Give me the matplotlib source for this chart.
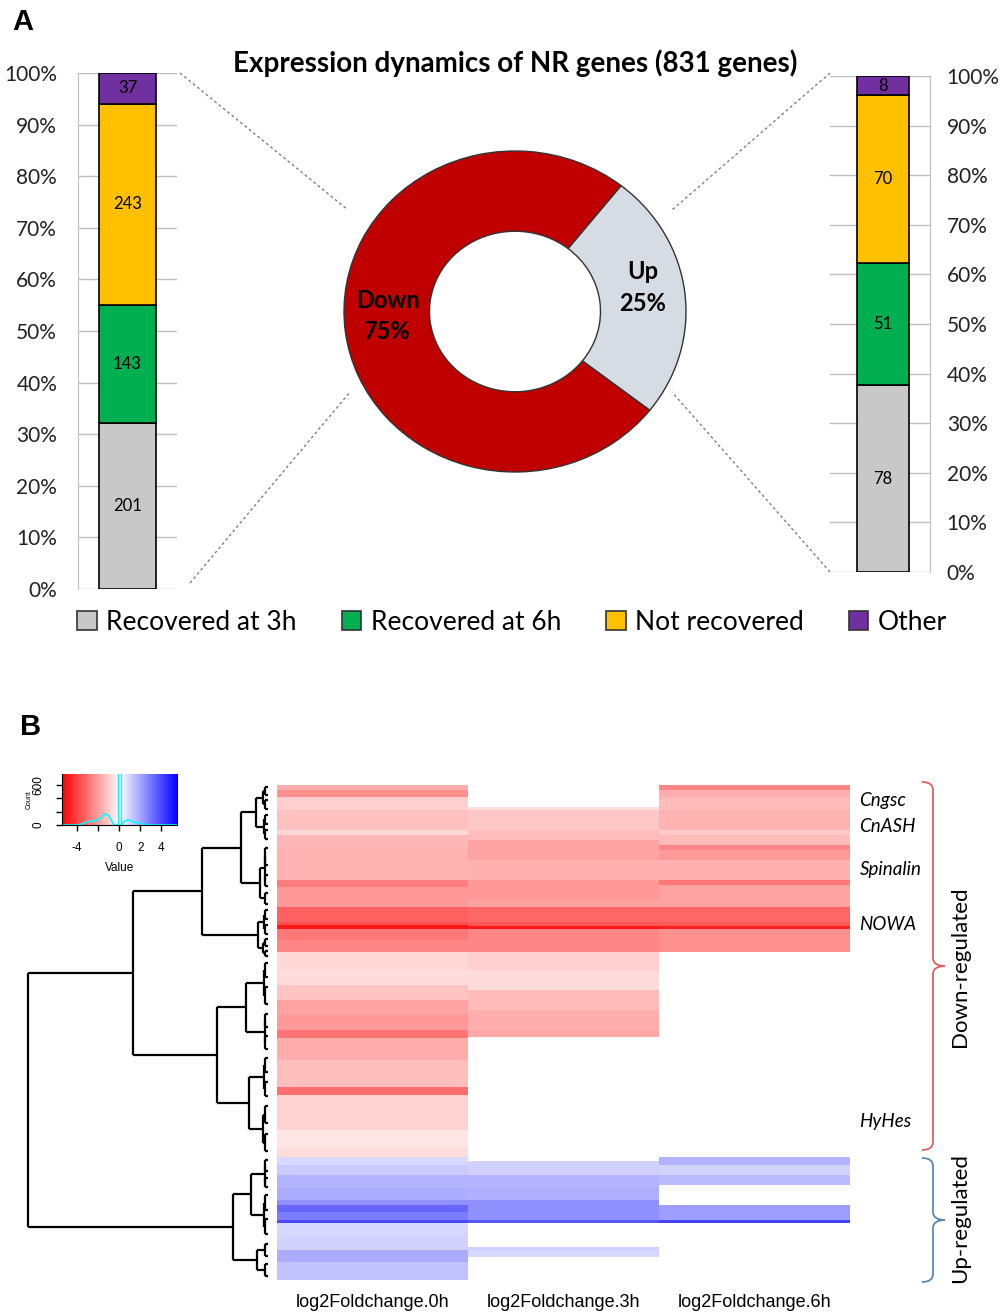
import numpy as np
import matplotlib
matplotlib.use("Agg")
import matplotlib.pyplot as plt
from matplotlib.patches import Patch, PathPatch
from matplotlib.path import Path
from matplotlib.colors import LinearSegmentedColormap

# ---------------- data ----------------
categories = ["Recovered at 3h", "Recovered at 6h", "Not recovered", "Other"]
cat_colors = ["#C8C8C8", "#00B050", "#FFC000", "#7030A0"]
down_counts = [201, 143, 243, 37]
up_counts = [78, 51, 70, 8]
donut_labels = ["Up", "Down"]
donut_counts = [sum(up_counts), sum(down_counts)]
donut_colors = ["#D6DCE4", "#C00000"]
pct_ticks = [0, 10, 20, 30, 40, 50, 60, 70, 80, 90, 100]

# heatmap row groups (top to bottom) and the columns present for each category
row_groups = ["Other", "Not recovered", "Recovered at 6h", "Recovered at 3h",
              "Other", "Not recovered", "Recovered at 6h", "Not recovered",
              "Recovered at 3h", "Recovered at 6h", "Recovered at 3h"]
row_group_sizes = [37, 243, 143, 201, 8, 40, 33, 30, 40, 18, 38]
present = {"Recovered at 3h": (1, 0, 0), "Recovered at 6h": (1, 1, 0),
           "Not recovered": (1, 1, 1), "Other": (1, 0, 1)}
col_labels = ["log2Foldchange.0h", "log2Foldchange.3h", "log2Foldchange.6h"]

# run-length encoded log2 fold changes (row start, value)
hm0_starts = [0, 8, 20, 42, 75, 84, 104, 159, 171, 205, 230, 235, 242, 260, 280, 310, 336, 361, 386, 411,
              425, 462, 507, 520, 579, 609, 624, 638, 655, 676, 697, 705, 717, 731, 736, 755, 781, 801]
hm0_vals = [-1.8, -2.4, -1.05, -1.35, -0.85, -1.55, -1.65, -2.8, -2.2, -3.4, -3.8, -5.0, -2.9, -2.6, -0.85,
            -0.75, -1.25, -2.0, -2.2, -3.0, -1.8, -1.4, -3.1, -0.95, -0.55, -0.75, 0.85, 1.15, 1.6, 1.8,
            2.4, 3.3, 2.8, 3.9, 0.85, 0.95, 1.8, 1.3]
hm3_starts = [0, 42, 75, 92, 126, 159, 193, 205, 230, 236, 242, 280, 310, 344, 378, 411, 425, 624, 638, 655,
              676, 697, 731, 736, 781, 801]
hm3_vals = [-0.7, -1.2, -1.45, -2.0, -1.7, -2.2, -2.0, -3.3, -3.6, -5.0, -2.6, -1.05, -0.75, -1.5, -1.75,
            -1.9, -1.0, 0.95, 1.0, 1.6, 1.7, 2.4, 3.6, 1.0, 0.85, 1.0]
hm6_starts = [0, 8, 20, 42, 75, 84, 101, 109, 126, 159, 168, 205, 230, 236, 242, 280, 624, 638, 655, 676,
              705, 731, 736]
hm6_vals = [-2.6, -1.8, -1.5, -1.6, -1.15, -1.5, -2.6, -2.2, -1.7, -2.9, -2.0, -3.3, -3.6, -4.8, -2.4,
            -1.0, 1.6, 0.95, 1.5, 1.5, 2.1, 4.0, 1.0]

# row dendrogram: (merge height, left, right); leaves are row counts
dendro = (240,
          (135,
           (66,
            (27, (12, (5, 20, 25), (4, 25, 25)), (8, (3, 50, 30), 30)),
            (10, (4, 25, 25), (5, 20, 15))),
           (51,
            (22, (4, 40, 48), (3, 36, 36)),
            (19, (4, 40, 40), (5, 47, 47)))),
          (35,
           (17, (3, 30, 27), (4, 40, 42)),
           (11, 34, 34)))

# colour-key histogram (value, count)
key_hist_x = [-5.5, -4.0, -3.5, -3.0, -2.5, -2.1, -1.8, -1.5, -1.3, -1.1, -0.85, -0.55, -0.4, 0.3, 0.4,
              0.6, 0.85, 1.1, 1.3, 1.8, 2.3, 2.6, 5.5]
key_hist_c = [0, 0, 20, 50, 60, 75, 100, 150, 165, 150, 100, 15, 0, 0, 50, 65, 75, 65, 50, 30, 15, 0, 0]

gene_labels = ["Cngsc", "CnASH", "Spinalin", "NOWA", "HyHes"]
gene_rows = [25, 69, 141, 233, 565]

# ---------------- figure ----------------
W, H = 1002, 1313
fig = plt.figure(figsize=(W / 100, H / 100), dpi=100)
SANS = ["Lato", "DejaVu Sans"]
ARIAL = ["Liberation Sans", "DejaVu Sans"]


def px_axes(x0, y0, x1, y1, **kw):
    return fig.add_axes([x0 / W, 1 - y1 / H, (x1 - x0) / W, (y1 - y0) / H], **kw)


# overlay for decorations
ov = px_axes(0, 0, W, H)
ov.set_xlim(0, W)
ov.set_ylim(H, 0)
ov.axis("off")


def stacked_bar(ax, counts, side, bar_x, bar_w, pad):
    total = sum(counts)
    fr = np.array(counts) / total
    bottoms = np.concatenate([[0], np.cumsum(fr)[:-1]])
    for f, b, c, n in zip(fr, bottoms, cat_colors, counts):
        ax.bar(bar_x, f, bottom=b, width=bar_w, color=c, edgecolor="black", linewidth=1.2, zorder=3)
        ax.text(bar_x, b + f / 2, str(n), ha="center", va="center", fontsize=12, family=SANS, zorder=4)
    ax.set_ylim(0, 1)
    ax.set_xlim(-0.5, 0.5)
    ax.set_yticks(np.array(pct_ticks) / 100)
    ax.set_yticklabels([f"{p}%" for p in pct_ticks], family=SANS, fontsize=15, color="#222222")
    ax.yaxis.grid(True, color="#BFBFBF", linewidth=1, zorder=0)
    ax.set_xticks([])
    for s in ax.spines.values():
        s.set_visible(False)
    ax.spines[side].set_visible(True)
    ax.spines[side].set_color("#BFBFBF")
    ax.tick_params(axis="y", length=0, pad=pad)
    if side == "right":
        ax.yaxis.tick_right()


axL = px_axes(78, 73, 177, 589)
stacked_bar(axL, down_counts, "left", 0.0, 0.58, 15)
axR = px_axes(830, 76, 930, 572)
stacked_bar(axR, up_counts, "right", 0.03, 0.52, 12)

# donut
axD = px_axes(344, 151, 686, 472)
wedges, _ = axD.pie(donut_counts, colors=donut_colors, startangle=-38, counterclock=True,
                    radius=1, wedgeprops=dict(width=0.5, edgecolor="#333333", linewidth=1.0))
axD.set_xlim(-1.0, 1.0)
axD.set_ylim(-1.0, 1.0)
axD.set_aspect("auto")
tot = sum(donut_counts)
for w, lab, n in zip(wedges, donut_labels, donut_counts):
    ang = np.deg2rad((w.theta1 + w.theta2) / 2)
    axD.text(0.75 * np.cos(ang), 0.75 * np.sin(ang) + 0.06, f"{lab}\n{round(100 * n / tot)}%",
             ha="center", va="center", fontsize=17, fontweight="bold", family=SANS, linespacing=1.45)

ov.text(515, 63, "Expression dynamics of NR genes (831 genes)", ha="center", va="center",
        fontsize=20, fontweight="bold", family=SANS)
ov.text(12, 22, "A", ha="left", va="center", fontsize=21, fontweight="bold", family=ARIAL)
ov.text(20, 727, "B", ha="left", va="center", fontsize=21, fontweight="bold", family=ARIAL)

dash = dict(color="#7F7F7F", linewidth=1.0, linestyle=(0, (2, 2)))
ov.plot([180, 348], [73, 210], **dash)
ov.plot([190, 350], [583, 392], **dash)
ov.plot([830, 672], [73, 210], **dash)
ov.plot([830, 672], [572, 392], **dash)

handles = [Patch(facecolor=c, edgecolor="#333333", linewidth=1.2) for c in cat_colors]
fig.legend(handles, categories, loc="center", bbox_to_anchor=(512 / W, 1 - 622 / H), ncol=4,
           frameon=False, prop=dict(family=SANS, size=19), handlelength=0.75, handleheight=0.75,
           handletextpad=0.35, columnspacing=1.7)

# ---------------- heatmap ----------------
n_rows = sum(row_group_sizes)


def expand(starts, vals):
    counts = np.diff(list(starts) + [n_rows])
    return np.repeat(vals, counts).astype(float)


mat = np.column_stack([expand(hm0_starts, hm0_vals), expand(hm3_starts, hm3_vals),
                       expand(hm6_starts, hm6_vals)])
mask = np.vstack([np.tile(present[g], (n, 1)) for g, n in zip(row_groups, row_group_sizes)])
mat[mask == 0] = np.nan

cmap = LinearSegmentedColormap.from_list("rwb", ["#FF0000", "#FFFFFF", "#0000FF"])
cmap.set_bad("white")
VMAX = 5.5
axH = px_axes(277, 785, 850, 1280)
axH.imshow(mat, aspect="auto", cmap=cmap, vmin=-VMAX, vmax=VMAX, interpolation="nearest")
axH.set_xticks(range(3))
axH.set_xticklabels(col_labels, family=ARIAL, fontsize=13)
axH.tick_params(axis="x", length=0, pad=10)
axH.set_yticks([])
for s in axH.spines.values():
    s.set_visible(False)

# gene labels
for g, r in zip(gene_labels, gene_rows):
    axH.text(2.55, r, g, ha="left", va="center", fontsize=13.5, style="italic", family=SANS,
             transform=axH.transData, clip_on=False)

# ---------------- dendrogram ----------------
axT = px_axes(20, 785, 268, 1280)
axT.set_xlim(248, 0)
axT.set_ylim(n_rows, 0)
axT.axis("off")
lk = dict(color="black", linewidth=1.6, solid_capstyle="butt")


def draw(node, start):
    if isinstance(node, int):
        a, b = start + 0.2 * node, start + 0.8 * node
        axT.plot([2.5, 2.5], [a, b], **lk)
        axT.plot([0, 2.5], [a, a], **lk)
        axT.plot([0, 2.5], [b, b], **lk)
        return start + node / 2, 2.5, start + node
    h, L, R = node
    pl, hl, e1 = draw(L, start)
    pr, hr, e2 = draw(R, e1)
    axT.plot([hl, h], [pl, pl], **lk)
    axT.plot([hr, h], [pr, pr], **lk)
    axT.plot([h, h], [pl, pr], **lk)
    return (pl + pr) / 2, h, e2


draw(dendro, 0)

# ---------------- colour key ----------------
axK = px_axes(61.5, 774, 177, 825)
grad = np.linspace(-VMAX, VMAX, 256)[None, :]
axK.imshow(grad, aspect="auto", cmap=cmap, extent=[-VMAX, VMAX, 0, 765], vmin=-VMAX, vmax=VMAX)
axK.plot(key_hist_x, key_hist_c, color="cyan", linewidth=1.2)
axK.axvline(-0.12, color="cyan", linewidth=1.0)
axK.axvline(0.12, color="cyan", linewidth=1.0)
axK.set_xlim(-VMAX, VMAX)
axK.set_ylim(0, 765)
axK.set_xticks([-4, -2, 0, 2, 4])
axK.set_xticklabels(["-4", "", "0", "2", "4"], family=ARIAL, fontsize=8.5)
axK.set_yticks([0, 200, 400, 600])
axK.set_yticklabels(["0", "", "", "600"], family=ARIAL, fontsize=8.5, rotation=90, va="center")
axK.tick_params(length=4, width=1, pad=8)
axK.set_xlabel("Value", family=ARIAL, fontsize=8.5, labelpad=6)
axK.set_ylabel("Count", family=ARIAL, fontsize=5, labelpad=0)
axK.spines["top"].set_visible(False)
axK.spines["right"].set_visible(False)

# ---------------- braces ----------------


def brace(x, y0, y1, color, depth=11, tip=12):
    ym = (y0 + y1) / 2
    verts = [(x - depth, y0), (x, y0), (x, y0 + 8), (x, ym - 8), (x, ym), (x + tip, ym),
             (x, ym), (x, ym + 8), (x, y1 - 8), (x, y1), (x - depth, y1)]
    codes = [Path.MOVETO, Path.CURVE3, Path.CURVE3, Path.LINETO, Path.CURVE3, Path.CURVE3,
             Path.CURVE3, Path.CURVE3, Path.LINETO, Path.CURVE3, Path.CURVE3]
    ov.add_patch(PathPatch(Path(verts, codes), facecolor="none", edgecolor=color, linewidth=1.3))


brace(933, 782, 1150, "#E06060")
brace(933, 1158, 1282, "#5A88B0")
ov.text(960, 967, "Down-regulated", rotation=90, ha="center", va="center", fontsize=16, family=SANS)
ov.text(960, 1218, "Up-regulated", rotation=90, ha="center", va="center", fontsize=16, family=SANS)

fig.savefig("out.png", dpi=100)
